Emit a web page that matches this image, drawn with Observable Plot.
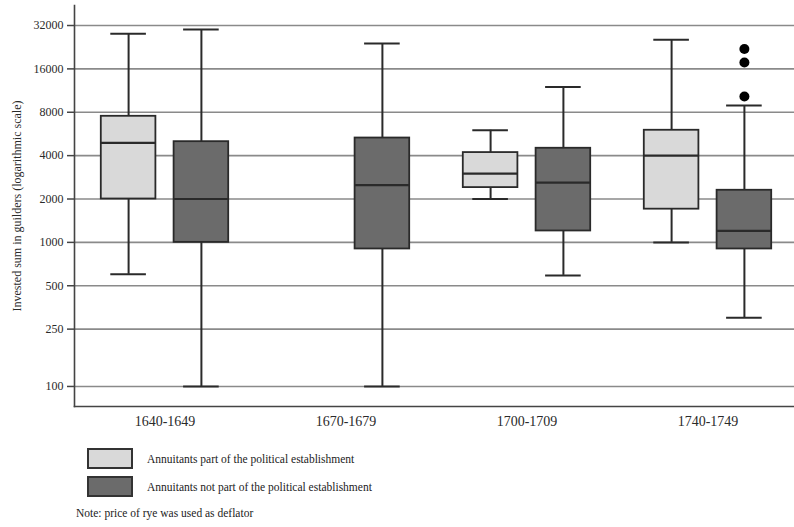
<!DOCTYPE html>
<html>
<head>
<meta charset="utf-8">
<script src="https://cdn.jsdelivr.net/npm/d3@7"></script>
<script src="https://cdn.jsdelivr.net/npm/@observablehq/plot@0.6"></script>
<style>
  html, body { margin: 0; padding: 0; background: #fff; }
  #wrap { position: relative; width: 794px; height: 527px; font-family: "Liberation Serif", "DejaVu Serif", serif; color: #222; }
  .sw { position: absolute; left: 87px; width: 46px; height: 21px; box-sizing: border-box; border: 2px solid #333; }
  .lt { position: absolute; left: 147px; font-size: 11.5px; line-height: 14px; }
  .note { position: absolute; left: 76px; font-size: 11.5px; line-height: 14px; }
</style>
</head>
<body>
<div id="wrap"></div>
<script>
// ---- data ----
const periods = ["1640-1649", "1670-1679", "1700-1709", "1740-1749"];
const groups = ["Annuitants part of the political establishment", "Annuitants not part of the political establishment"];
const groupColors = ["#d9d9d9", "#6b6b6b"];
const yTicks = [100, 250, 500, 1000, 2000, 4000, 8000, 16000, 32000];

const boxPeriod = ["1640-1649", "1640-1649", "1670-1679", "1700-1709", "1700-1709", "1740-1749", "1740-1749"];
const boxGroupIdx = [0, 1, 1, 0, 1, 0, 1];
const lowWhisker = [600, 100, 100, 2000, 590, 1000, 300];
const q1 = [2000, 1000, 900, 2400, 1200, 1700, 900];
const median = [4900, 2000, 2500, 3000, 2600, 4000, 1200];
const q3 = [7500, 5000, 5300, 4200, 4500, 6000, 2300];
const highWhisker = [28000, 30000, 24000, 6000, 12000, 25500, 8900];

const outlierPeriod = ["1740-1749", "1740-1749", "1740-1749"];
const outlierGroupIdx = [1, 1, 1];
const outlierValue = [22000, 17700, 10300];

const yLabel = "Invested sum in guilders (logarithmic scale)";
const noteText = "Note: price of rye was used as deflator";

// ---- tables built from the arrays ----
const boxes = boxPeriod.map((p, i) => ({
  period: p, group: groups[boxGroupIdx[i]],
  low: lowWhisker[i], q1: q1[i], median: median[i], q3: q3[i], high: highWhisker[i]
}));
const outliers = outlierPeriod.map((p, i) => ({ period: p, group: groups[outlierGroupIdx[i]], value: outlierValue[i] }));

const ink = "#2a2a2a";

const chart = Plot.plot({
  width: 794,
  height: 440,
  marginLeft: 73,
  marginRight: -5,
  marginTop: 5,
  marginBottom: 34,
  style: { fontFamily: "Liberation Serif, DejaVu Serif, serif", color: ink, background: "transparent" },
  fx: { domain: periods, padding: 0 },
  x: { domain: groups, paddingInner: 0.25, paddingOuter: 0.368, axis: null, round: false },
  y: { type: "log", domain: [72.6, 44060] },
  color: { domain: groups, range: groupColors },
  marks: [
    Plot.ruleY(yTicks, { stroke: "#8a8a8a", strokeWidth: 1.6 }),
    Plot.frame({ anchor: "left", facet: "super", stroke: "#444", strokeWidth: 1.6 }),
    Plot.frame({ anchor: "bottom", facet: "super", stroke: "#444", strokeWidth: 1.6 }),
    Plot.axisY({
      ticks: yTicks, tickFormat: () => "", tickSize: 7, tickPadding: 4,
      fontSize: 12, stroke: "#444", strokeWidth: 1.5,
      label: yLabel, labelAnchor: "center", labelOffset: 62, labelArrow: false
    }),
    Plot.text(yTicks, {
      fx: () => periods[0], y: d => d, text: d => String(d),
      frameAnchor: "left", textAnchor: "end", dx: -11, fontSize: 12, fill: ink
    }),
    Plot.axisFx({ anchor: "bottom", tickSize: 0, tickPadding: 10, fontSize: 14, label: null }),
    Plot.ruleX(boxes, { fx: "period", x: "group", y1: "low", y2: "q1", stroke: ink, strokeWidth: 2 }),
    Plot.ruleX(boxes, { fx: "period", x: "group", y1: "q3", y2: "high", stroke: ink, strokeWidth: 2 }),
    Plot.tickY(boxes, { fx: "period", x: "group", y: "low", stroke: ink, strokeWidth: 2, insetLeft: 9.5, insetRight: 9.5 }),
    Plot.tickY(boxes, { fx: "period", x: "group", y: "high", stroke: ink, strokeWidth: 2, insetLeft: 9.5, insetRight: 9.5 }),
    Plot.barY(boxes, { fx: "period", x: "group", y1: "q1", y2: "q3", fill: "group", stroke: ink, strokeWidth: 1.8 }),
    Plot.tickY(boxes, { fx: "period", x: "group", y: "median", stroke: ink, strokeWidth: 2.2 }),
    Plot.dot(outliers, { fx: "period", x: "group", y: "value", r: 5, fill: "#000", stroke: "none" })
  ]
});

const wrap = document.getElementById("wrap");
chart.style.position = "absolute";
chart.style.left = "0px";
chart.style.top = "0px";
wrap.appendChild(chart);

// legend below the SVG
const legendTops = [448, 476];
groups.forEach((g, i) => {
  const sw = document.createElement("div");
  sw.className = "sw";
  sw.style.top = legendTops[i] + "px";
  sw.style.background = groupColors[i];
  wrap.appendChild(sw);
  const t = document.createElement("div");
  t.className = "lt";
  t.style.top = (legendTops[i] + 4) + "px";
  t.textContent = g;
  wrap.appendChild(t);
});
const note = document.createElement("div");
note.className = "note";
note.style.top = "506px";
note.textContent = noteText;
wrap.appendChild(note);
</script>
</body>
</html>
